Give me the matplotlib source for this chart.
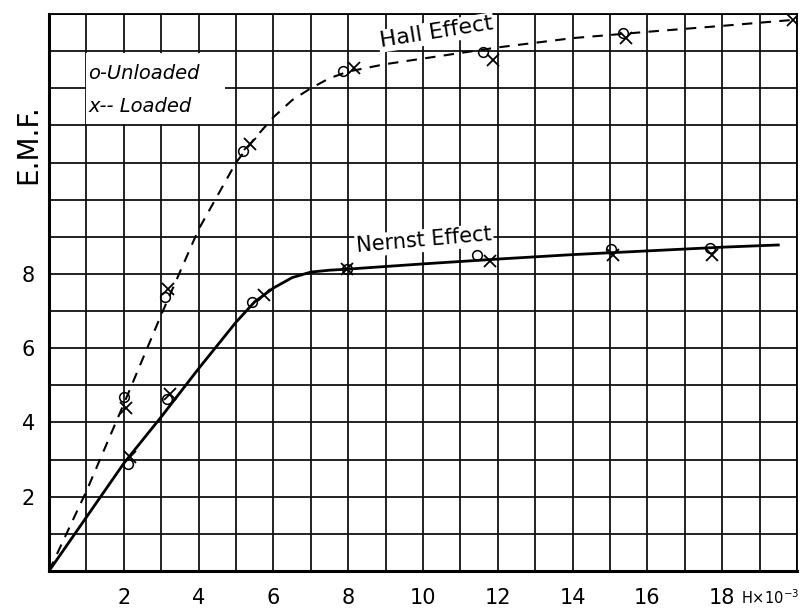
import matplotlib.pyplot as plt
from matplotlib.patches import Rectangle

# Curvas desenhadas à mão
hall_x = [0, 1, 2, 3, 4, 5, 5.5, 6, 6.5, 7, 7.5, 8, 9, 10, 12, 14, 16, 18, 20]
hall_y = [0, 2.15, 4.5, 6.9, 9.2, 11.0, 11.65, 12.22, 12.68, 13.0, 13.27, 13.45, 13.65, 13.8, 14.1, 14.35, 14.52, 14.68, 14.85]

nernst_x = [0, 1, 2, 3, 4, 5, 5.5, 6, 6.5, 7, 7.5, 8, 10, 12, 14, 16, 18, 19.5]
nernst_y = [0, 1.45, 2.9, 4.15, 5.45, 6.7, 7.25, 7.62, 7.9, 8.05, 8.1, 8.13, 8.27, 8.4, 8.52, 8.62, 8.72, 8.78]

# Pontos medidos
hall_unl_x = [2.0, 3.1, 5.2, 7.86, 11.6, 15.35]
hall_unl_y = [4.68, 7.38, 11.3, 13.46, 13.97, 14.49]
hall_load_x = [2.05, 3.18, 5.37, 8.15, 11.87, 15.43, 19.9]
hall_load_y = [4.4, 7.6, 11.5, 13.54, 13.76, 14.35, 14.84]

nernst_unl_x = [2.11, 3.15, 5.43, 7.97, 11.44, 15.03, 17.67]
nernst_unl_y = [2.89, 4.62, 7.24, 8.14, 8.51, 8.68, 8.7]
nernst_load_x = [2.17, 3.23, 5.75, 7.97, 11.8, 15.08, 17.73]
nernst_load_y = [3.08, 4.76, 7.43, 8.14, 8.35, 8.5, 8.51]

x_ticks = [2, 4, 6, 8, 10, 12, 14, 16, 18]
y_ticks = [2, 4, 6, 8]

fig = plt.figure(figsize=(8.01, 6.11), dpi=100)
ax = fig.add_axes([0.0612, 0.0655, 0.9338, 0.9116])

ax.set_xlim(0, 20)
ax.set_ylim(0, 15)
ax.set_xticks(x_ticks)
ax.set_yticks(y_ticks)
ax.set_xticks(range(0, 21), minor=True)
ax.set_yticks(range(0, 16), minor=True)
ax.tick_params(which='both', length=0)
ax.tick_params(axis='x', labelsize=15, pad=12)
ax.tick_params(axis='y', labelsize=15, pad=10)
ax.grid(True, which='both', color='#111111', linewidth=1.3)
ax.set_axisbelow(True)
for s in ax.spines.values():
    s.set_linewidth(1.3)
ax.spines['left'].set_linewidth(2.2)
ax.spines['bottom'].set_linewidth(2.2)

# Área branca da legenda
ax.add_patch(Rectangle((1.0, 12.05), 3.7, 1.9, facecolor='white', edgecolor='none', zorder=1.5))

ax.plot(hall_x, hall_y, color='black', linestyle=(0, (5, 4)), linewidth=1.5, zorder=3)
ax.plot(nernst_x, nernst_y, color='black', linewidth=2.0, zorder=3)

ax.plot(hall_unl_x, hall_unl_y, 'o', mfc='none', mec='black', ms=7, mew=1.1, zorder=4)
ax.plot(hall_load_x, hall_load_y, 'x', color='black', ms=9, mew=1.3, zorder=4)
ax.plot(nernst_unl_x, nernst_unl_y, 'o', mfc='none', mec='black', ms=7, mew=1.1, zorder=4)
ax.plot(nernst_load_x, nernst_load_y, 'x', color='black', ms=9, mew=1.3, zorder=4)

ax.text(1.05, 13.4, 'o-Unloaded', fontsize=14, style='italic', va='center', zorder=5)
ax.text(1.05, 12.5, 'x-- Loaded', fontsize=14, style='italic', va='center', zorder=5)

ax.text(8.8, 14.5, 'Hall Effect', fontsize=16, rotation=9, va='center', zorder=5,
        bbox=dict(facecolor='white', edgecolor='none', pad=1))
ax.text(8.2, 8.9, 'Nernst Effect', fontsize=15, rotation=5, va='center', zorder=5,
        bbox=dict(facecolor='white', edgecolor='none', pad=1))

ax.text(-0.55, 11.5, 'E.M.F.', fontsize=20, rotation=90, ha='center', va='center', clip_on=False)
fig.text(0.998, 0.022, 'H×10$^{-3}$', fontsize=10.5, ha='right', va='center')

plt.savefig('out.png', dpi=100)
